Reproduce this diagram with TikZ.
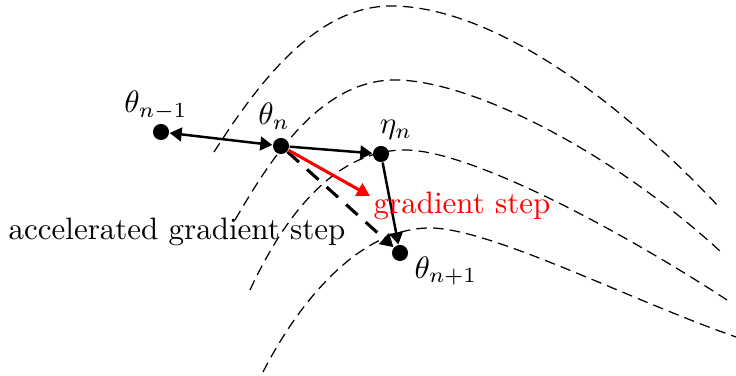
\documentclass[tikz,border=0pt]{standalone}
\usetikzlibrary{arrows.meta}
\begin{document}
\begin{tikzpicture}[x=0.323pt,y=-0.323pt,
  dot/.style={circle,fill=black,inner sep=0pt,minimum size=5.2pt},
  lbl/.style={inner sep=0pt},
  level/.style={line width=0.4pt,dash pattern=on 3.4pt off 2pt},
  tipA/.style={Triangle[length=3.9pt,width=4.4pt]},
  stepline/.style={thick,-{Triangle[length=3.9pt,width=4.4pt]}},
  redline/.style={line width=1pt,red,-{Triangle[length=4.2pt,width=4.6pt]}},
  accline/.style={line width=1pt,dash pattern=on 5pt off 3.5pt,-{Triangle[length=4.2pt,width=4.6pt]}}]
\useasboundingbox (0,0) rectangle (736,376);
% level curves
\draw[level] (214,152) .. controls (257,85) and (315,6) .. (391,6)
  .. controls (480,6) and (600,80) .. (720,208);
\draw[level] (235,220) .. controls (270,160) and (320,80) .. (395,80)
  .. controls (470,80) and (610,150) .. (721,252);
\draw[level] (250,290) .. controls (285,215) and (335,150) .. (405,150)
  .. controls (470,150) and (620,230) .. (727,300);
\draw[level] (263,372) .. controls (300,300) and (360,228) .. (430,228)
  .. controls (490,228) and (630,300) .. (736,337);
% points
\node[dot] (tp) at (161,132) {};
\node[dot] (t) at (281,146) {};
\node[dot] (eta) at (381,154) {};
\node[dot] (tn) at (400,253) {};
\node[lbl] (ltp) at (156,105.5) {$\theta_{n-1}$};
\node[lbl] (lt) at (274,116) {$\theta_n$};
\node[lbl] (leta) at (396,130) {$\eta_n$};
\node[lbl] (ltn) at (446,271) {$\theta_{n+1}$};
\coordinate (g) at (370,196);
% arrows
\draw[thick,{Triangle[length=3.9pt,width=4.4pt]}-{Triangle[length=3.9pt,width=4.4pt]}] (tp) -- (t);
\draw[stepline] (t) -- (eta);
\draw[stepline] (eta) -- (tn);
\draw[accline] (t) -- (tn);
\draw[redline] (t) -- (g);
% texts
\node[lbl] (acc) at (177,232) {accelerated gradient step};
\node[lbl,text=red] (grad) at (462,205.5) {gradient step};
\end{tikzpicture}
\end{document}
